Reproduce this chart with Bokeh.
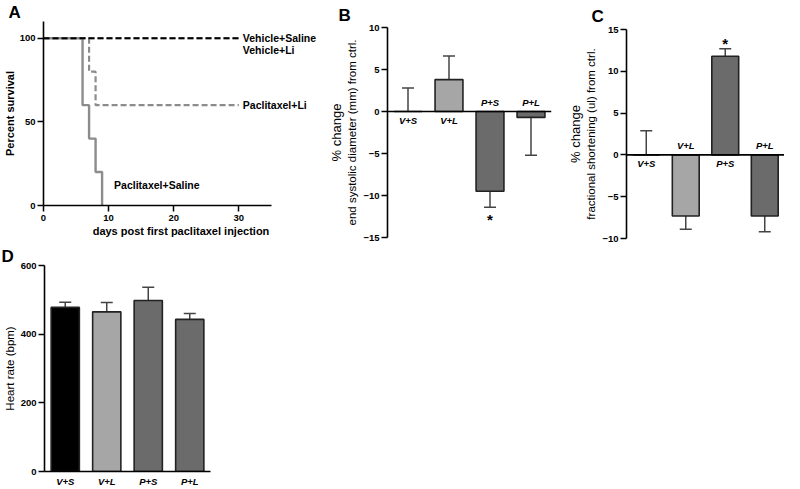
from bokeh.plotting import figure
from bokeh.models import (FactorRange, Range1d, FixedTicker, Span, Whisker,
                          TeeHead, ColumnDataSource, LinearAxis)
from bokeh.layouts import row, column
from bokeh.embed import file_html
from bokeh.resources import INLINE
from bokeh.core.properties import value

# ---------------- data ----------------
# Panel A: Kaplan-Meier survival
veh_sal_days = [0, 30]
veh_sal_pct = [100, 100]
veh_li_days = [0, 30]
veh_li_pct = [100, 100]
pac_li_days = [0, 7, 8, 30]
pac_li_pct = [100, 80, 60, 60]
pac_sal_days = [0, 6, 7, 8, 9]
pac_sal_pct = [100, 60, 40, 20, 0]
surv_names = ["Vehicle+Saline", "Vehicle+Li", "Paclitaxel+Li", "Paclitaxel+Saline"]
surv_xticks = [0, 10, 20, 30]
surv_yticks = [0, 50, 100]

# Panels B, C, D
groups = ["V+S", "V+L", "P+S", "P+L"]
bar_colors = ["#000000", "#a6a6a6", "#6b6b6b", "#6b6b6b"]
esd_mean = [0.0, 3.8, -9.5, -0.7]
esd_err = [2.8, 2.8, 1.9, 4.5]
esd_ticks = [-15, -10, -5, 0, 5, 10]
fs_mean = [0.0, -7.3, 11.8, -7.3]
fs_err = [2.9, 1.6, 0.9, 1.9]
fs_ticks = [-10, -5, 0, 5, 10, 15]
hr_mean = [478, 465, 498, 443]
hr_err = [15, 27, 39, 17]
hr_ticks = [0, 200, 400, 600]
sig_group = "P+S"

FONT = "Liberation Sans"
ERR_COLOR = "#444444"
EDGE = "#222222"


def style(p):
    p.outline_line_color = None
    p.grid.visible = False
    p.background_fill_color = "white"
    p.border_fill_color = "white"
    for ax in p.axis:
        ax.axis_line_width = 1.6
        ax.axis_line_color = "black"
        ax.major_tick_line_width = 1.5
        ax.major_tick_line_color = "black"
        ax.major_tick_out = 6
        ax.major_tick_in = 0
        ax.minor_tick_out = 0
        ax.minor_tick_in = 0
        ax.major_label_text_font = FONT
        ax.major_label_text_font_style = "bold"
        ax.major_label_text_font_size = "9.5px"
        ax.major_label_text_color = "black"
        ax.major_label_standoff = 2
        ax.axis_label_text_font = FONT
        ax.axis_label_text_color = "black"
        ax.axis_label_standoff = 2


def letter(p, txt, offset, standoff):
    p.title.text = txt
    p.title.text_font = FONT
    p.title.text_font_style = "bold"
    p.title.text_font_size = "17px"
    p.title.text_color = "black"
    p.title.align = "left"
    p.title.offset = offset
    p.title.standoff = standoff


TOP_H = 244
BOT_H = 245

# ---------------- Panel A ----------------
A_W, A_BL = 318, 38
A_PX_PER_DAY = 232 / 35
pA = figure(width=A_W, height=TOP_H, x_range=Range1d(0, (A_W - A_BL) / A_PX_PER_DAY),
            y_range=Range1d(0, 110),
            min_border_left=A_BL, min_border_right=0, min_border_top=16, min_border_bottom=39,
            output_backend="svg", toolbar_location=None)
pA.step(pac_sal_days, pac_sal_pct, mode="after", line_color="#8c8c8c", line_width=2.4)
pA.step(veh_li_days, veh_li_pct, mode="after", line_color="#8c8c8c", line_width=2.2,
        line_dash="6 3")
pA.step(pac_li_days, pac_li_pct, mode="after", line_color="#8c8c8c", line_width=2.2,
        line_dash="6 3")
pA.step(veh_sal_days, veh_sal_pct, mode="after", line_color="black", line_width=2.2,
        line_dash="6 3")
style(pA)
pA.xaxis.ticker = FixedTicker(ticks=surv_xticks)
pA.yaxis.ticker = FixedTicker(ticks=surv_yticks)
pA.xaxis.bounds = (0, 35)
pA.xaxis.axis_label = "days post first paclitaxel injection"
pA.yaxis.axis_label = "Percent survival"
for ax in pA.axis:
    ax.axis_label_text_font_style = "bold"
    ax.axis_label_text_font_size = "11px"
    ax.axis_label_standoff = 1
pA.xaxis.major_label_standoff = 3
lab_src = ColumnDataSource(dict(
    x=[veh_sal_days[-1], veh_li_days[-1], pac_li_days[-1], pac_sal_days[-1]],
    y=[veh_sal_pct[-1], veh_li_pct[-1], pac_li_pct[-1], pac_sal_pct[-1]],
    text=surv_names,
    dx=[4, 4, 4, 12],
    dy=[0, 12, 0, -21],
))
pA.text(x="x", y="y", text="text", x_offset="dx", y_offset="dy", source=lab_src,
        text_font=value(FONT), text_font_style="bold", text_font_size="10.5px",
        text_baseline="middle", text_align="left", text_color="black")
letter(pA, "A", -35, 0)


# ---------------- bar panel helper ----------------
def bar_panel(means, errs, ticks, yr, ylabel, width, height, bl, br, bt, bb,
              categorical_axis=False, top_label=None):
    p = figure(width=width, height=height, x_range=FactorRange(factors=groups),
               y_range=Range1d(*yr), min_border_left=bl, min_border_right=br,
               min_border_top=bt, min_border_bottom=bb,
               output_backend="svg", toolbar_location=None)
    src = ColumnDataSource(dict(x=groups, top=means, color=bar_colors))
    p.vbar(x="x", top="top", bottom=0, width=0.68, source=src, fill_color="color",
           line_color=EDGE, line_width=1.6)
    up = [i for i, m in enumerate(means) if m >= 0]
    dn = [i for i, m in enumerate(means) if m < 0]
    if up:
        su = ColumnDataSource(dict(x=[groups[i] for i in up],
                                   lower=[means[i] for i in up],
                                   upper=[means[i] + errs[i] for i in up]))
        p.add_layout(Whisker(base="x", lower="lower", upper="upper", source=su,
                             line_color=ERR_COLOR, line_width=1.5, lower_head=None,
                             upper_head=TeeHead(size=12, line_color=ERR_COLOR, line_width=1.5)))
    if dn:
        sd = ColumnDataSource(dict(x=[groups[i] for i in dn],
                                   lower=[means[i] - errs[i] for i in dn],
                                   upper=[means[i] for i in dn]))
        p.add_layout(Whisker(base="x", lower="lower", upper="upper", source=sd,
                             line_color=ERR_COLOR, line_width=1.5, upper_head=None,
                             lower_head=TeeHead(size=12, line_color=ERR_COLOR, line_width=1.5)))
    style(p)
    p.yaxis.ticker = FixedTicker(ticks=ticks)
    p.yaxis.axis_label = ylabel
    p.yaxis.axis_label_text_font_style = "normal"
    p.yaxis.axis_label_text_font_size = "11.5px"
    if top_label is not None:
        extra = LinearAxis(axis_label=top_label, ticker=FixedTicker(ticks=[]),
                           axis_line_color=None, major_tick_line_color=None,
                           minor_tick_line_color=None, major_tick_out=0, minor_tick_out=0,
                           major_label_standoff=0, axis_label_standoff=0,
                           axis_label_text_font=FONT, axis_label_text_font_style="normal",
                           axis_label_text_font_size="13px", axis_label_text_color="black")
        p.add_layout(extra, "left")
    if categorical_axis:
        p.xaxis.major_label_text_font_style = "bold italic"
        p.xaxis.major_tick_out = 0
        p.xaxis.major_label_standoff = 4
    else:
        p.xaxis.visible = False
        p.add_layout(Span(location=0, dimension="width", line_color="black", line_width=1.6))
        ls = ColumnDataSource(dict(x=groups, y=[0] * 4,
                                   off=[9 if m >= 0 else -9 for m in means]))
        p.text(x="x", y="y", text="x", y_offset="off", source=ls, text_align="center",
               text_baseline="middle", text_font=value(FONT), text_font_style="bold italic",
               text_font_size="9.5px", text_color="black")
    return p


# ---------------- Panel B ----------------
pB = bar_panel(esd_mean, esd_err, esd_ticks, (-15, 10),
               "end systolic diameter (mm) from ctrl.",
               234, TOP_H, 69, 1, 26, 7, top_label="% change")
iB = groups.index(sig_group)
pB.text(x=[sig_group], y=[esd_mean[iB] - esd_err[iB]], text=["*"], y_offset=4,
        text_align="center", text_baseline="top", text_font=value(FONT),
        text_font_style="bold", text_font_size="15px", text_color="black")
letter(pB, "B", -49, 6)

# ---------------- Panel C ----------------
pC = bar_panel(fs_mean, fs_err, fs_ticks, (-10, 15),
               "fractional shortening (ul) from ctrl.",
               232, TOP_H, 74, 0, 28, 6, top_label="% change")
iC = groups.index(sig_group)
pC.text(x=[sig_group], y=[fs_mean[iC] + fs_err[iC]], text=["*"], y_offset=3,
        text_align="center", text_baseline="bottom", text_font=value(FONT),
        text_font_style="bold", text_font_size="15px", text_color="black")
letter(pC, "C", -35, 8)

# ---------------- Panel D ----------------
pD = bar_panel(hr_mean, hr_err, hr_ticks, (0, 600), "Heart rate (bpm)",
               216, BOT_H, 44, 6, 20, 14, categorical_axis=True)
letter(pD, "D", -43, 0)

layout = column(row(column(pA), column(pB), column(pC)), pD)
open("out.html", "w").write(file_html(layout, INLINE))
